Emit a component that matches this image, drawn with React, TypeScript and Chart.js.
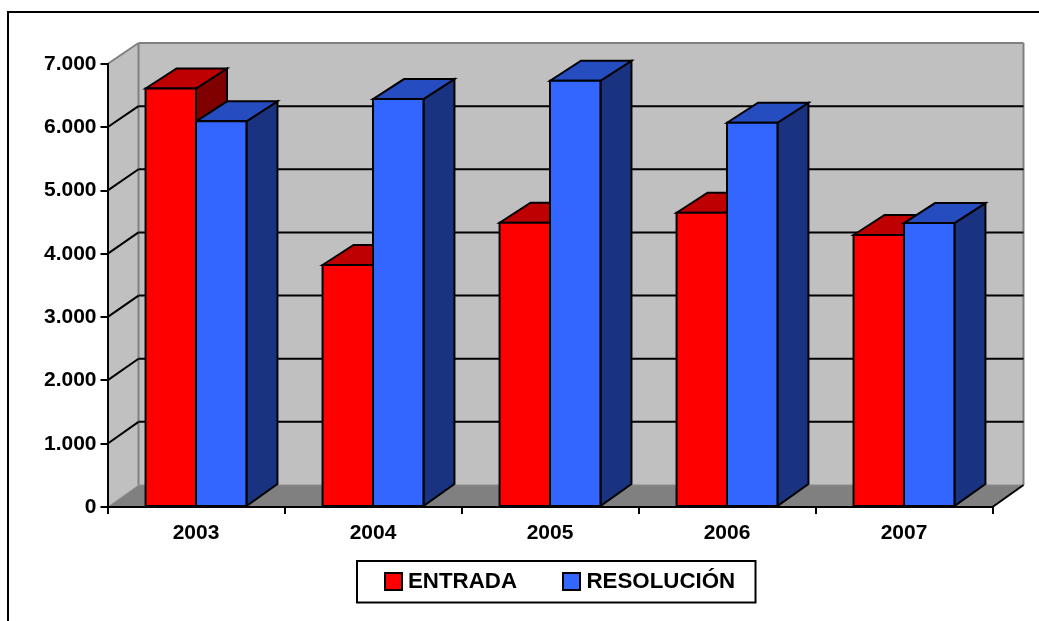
import React, { useEffect, useRef } from "react";
import { Chart, registerables } from "chart.js";

Chart.register(...registerables);

const categories = ["2003", "2004", "2005", "2006", "2007"];
const entrada = [6613, 3824, 4492, 4650, 4298];
const resolucion = [6094, 6446, 6735, 6072, 4487];
const seriesNames = ["ENTRADA", "RESOLUCIÓN"];
const frontColors = ["#FF0000", "#3366FF"];
const topColors = ["#BF0000", "#264DBF"];
const sideColors = ["#800000", "#1A3380"];

const FONT = '"Liberation Sans", Arial, sans-serif';
const DX = 31;
const TOP_DY = -20;
const BOTTOM_DY = -22;
const wallDY = (v: number) => -22 + v / 7000;

function poly(ctx: CanvasRenderingContext2D, pts: number[][], fill?: string, stroke?: string, lw = 2) {
  ctx.beginPath();
  pts.forEach((p, i) => (i ? ctx.lineTo(p[0], p[1]) : ctx.moveTo(p[0], p[1])));
  ctx.closePath();
  if (fill) {
    ctx.fillStyle = fill;
    ctx.fill();
  }
  if (stroke) {
    ctx.strokeStyle = stroke;
    ctx.lineWidth = lw;
    ctx.lineJoin = "miter";
    ctx.stroke();
  }
}

function seg(ctx: CanvasRenderingContext2D, x1: number, y1: number, x2: number, y2: number, color: string, lw = 2) {
  ctx.beginPath();
  ctx.moveTo(x1, y1);
  ctx.lineTo(x2, y2);
  ctx.strokeStyle = color;
  ctx.lineWidth = lw;
  ctx.stroke();
}

const walls3d = {
  id: "walls3d",
  beforeDraw(chart: any) {
    const { ctx, chartArea: a, scales } = chart;
    const y = scales.y;
    const L = a.left, R = a.right, T = y.getPixelForValue(7000), B = y.getPixelForValue(0);
    const TB = T + wallDY(7000), BB = B + wallDY(0);
    ctx.save();
    // outer frame: only left and top edges are visible
    seg(ctx, 8, 12, 8, 621, "#000", 2);
    seg(ctx, 7, 12, 1039, 12, "#000", 2);
    // walls and floor
    poly(ctx, [[L + DX, TB], [R + DX, TB], [R + DX, BB], [L + DX, BB]], "#C0C0C0");
    poly(ctx, [[L, T], [L + DX, TB], [L + DX, BB], [L, B]], "#C0C0C0");
    poly(ctx, [[L, B], [L + DX, BB], [R + DX, BB], [R, B]], "#808080");
    // wall edges
    seg(ctx, L, T, L + DX, TB, "#808080", 2);
    seg(ctx, L + DX, TB, R + DX, TB, "#808080", 2);
    seg(ctx, R + DX, TB, R + DX, BB, "#808080", 2);
    seg(ctx, L + DX, TB, L + DX, BB, "#808080", 2);
    seg(ctx, L + DX, BB, R + DX, BB, "#8C8C8C", 1);
    seg(ctx, L, B, L + DX, BB, "#9A9A9A", 1);
    seg(ctx, R, B, R + DX, BB, "#000", 2);
    // gridlines
    for (let v = 1000; v <= 6000; v += 1000) {
      const py = y.getPixelForValue(v);
      seg(ctx, L, py, L + DX, py + wallDY(v), "#000", 2);
      seg(ctx, L + DX, py + wallDY(v), R + DX, py + wallDY(v), "#000", 2);
    }
    ctx.restore();
  },
};

const bars3d = {
  id: "bars3d",
  beforeDatasetsDraw(chart: any) {
    const { ctx } = chart;
    ctx.save();
    categories.forEach((_, j) => {
      chart.data.datasets.forEach((_d: any, i: number) => {
        const el = chart.getDatasetMeta(i).data[j];
        const l = el.x - el.width / 2, r = el.x + el.width / 2;
        const t = el.y, b = el.base;
        poly(ctx, [[r, t], [r + DX, t + TOP_DY], [r + DX, b + BOTTOM_DY], [r, b]], sideColors[i], "#000", 2);
        poly(ctx, [[l, t], [l + DX, t + TOP_DY], [r + DX, t + TOP_DY], [r, t]], topColors[i], "#000", 2);
      });
    });
    ctx.restore();
  },
  afterDatasetsDraw(chart: any) {
    const { ctx } = chart;
    ctx.save();
    categories.forEach((_, j) => {
      chart.data.datasets.forEach((_d: any, i: number) => {
        const el = chart.getDatasetMeta(i).data[j];
        const l = el.x - el.width / 2, r = el.x + el.width / 2;
        poly(ctx, [[l, el.y], [r, el.y], [r, el.base], [l, el.base]], undefined, "#000", 2);
      });
    });
    ctx.restore();
  },
};

const legendBox = {
  id: "legendBox",
  afterDraw(chart: any) {
    const { ctx } = chart;
    ctx.save();
    ctx.strokeStyle = "#000";
    ctx.lineWidth = 2;
    ctx.strokeRect(357, 561, 398.5, 41.5);
    const swatchX = [385, 563];
    const textX = [408, 586.5];
    chart.data.datasets.forEach((d: any, i: number) => {
      ctx.fillStyle = d.backgroundColor;
      ctx.fillRect(swatchX[i], 573, 17, 17);
      ctx.strokeRect(swatchX[i], 573, 17, 17);
      ctx.fillStyle = "#000";
      ctx.font = `bold 22.3px ${FONT}`;
      ctx.textBaseline = "middle";
      ctx.textAlign = "left";
      ctx.fillText(d.label, textX[i], 581.5);
    });
    ctx.restore();
  },
};

export default function App() {
  const ref = useRef<HTMLCanvasElement>(null);
  useEffect(() => {
    const chart = new Chart(ref.current as HTMLCanvasElement, {
      type: "bar",
      data: {
        labels: categories,
        datasets: [
          { label: seriesNames[0], data: entrada, backgroundColor: frontColors[0] },
          { label: seriesNames[1], data: resolucion, backgroundColor: frontColors[1] },
        ],
      },
      options: {
        responsive: false,
        animation: false,
        layout: { autoPadding: false, padding: { left: 30.5, top: 64, right: 46.5, bottom: 74 } },
        datasets: { bar: { categoryPercentage: 0.57, barPercentage: 1, borderWidth: 0 } },
        plugins: { legend: { display: false }, title: { display: false }, tooltip: { enabled: false } },
        scales: {
          x: {
            afterFit: (s: any) => { s.height = 40; },
            offset: true,
            grid: { offset: true, drawOnChartArea: false, drawTicks: true, tickLength: 7, color: "#000", lineWidth: 2 },
            border: { display: true, color: "#000", width: 2 },
            ticks: { color: "#000", padding: 7, maxRotation: 0, font: { family: FONT, size: 21, weight: "bold" } },
          },
          y: {
            afterFit: (s: any) => { s.width = 77; },
            min: 0,
            max: 7000,
            grid: { drawOnChartArea: false, drawTicks: true, tickLength: 7, color: "#000", lineWidth: 2 },
            border: { display: true, color: "#000", width: 2 },
            ticks: {
              stepSize: 1000,
              color: "#000",
              padding: 4,
              font: { family: FONT, size: 21, weight: "bold" },
              callback: (v: any) => {
                const n = Number(v);
                return n >= 1000 ? `${Math.floor(n / 1000)}.${String(n % 1000).padStart(3, "0")}` : String(n);
              },
            },
          },
        },
      },
      plugins: [walls3d, bars3d, legendBox],
    } as any);
    return () => chart.destroy();
  }, []);
  return (
    <canvas
      ref={ref}
      width={1039}
      height={621}
      style={{ position: "absolute", left: 0, top: 0, display: "block", background: "#fff" }}
    />
  );
}
